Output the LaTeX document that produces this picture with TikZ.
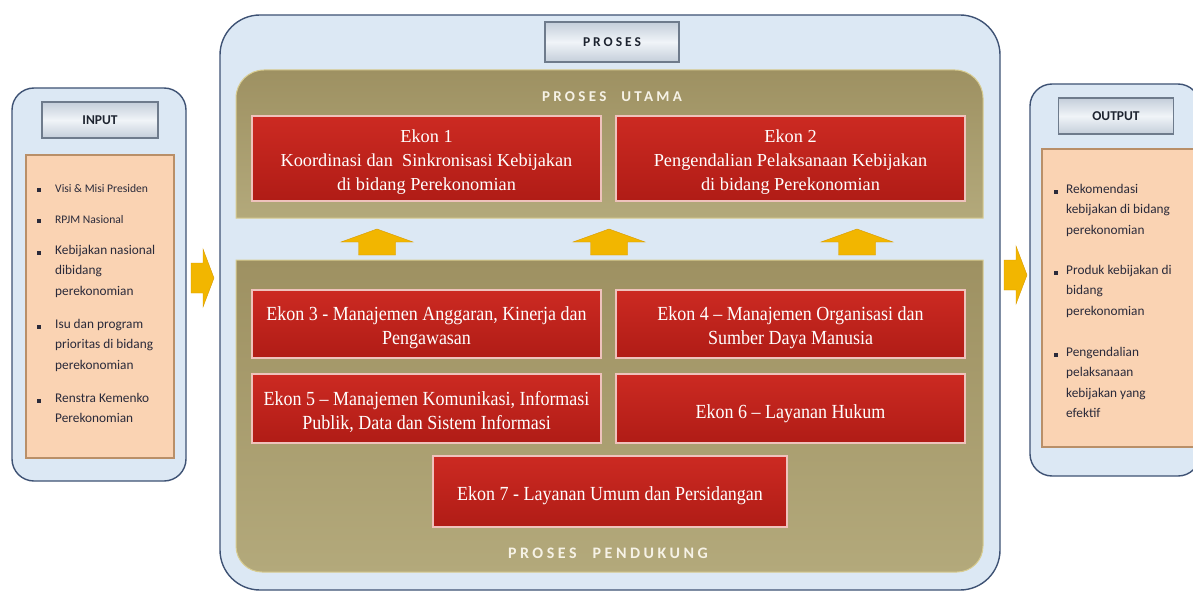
\documentclass[tikz,border=0pt]{standalone}
\usepackage{fontspec}
\setmainfont{Liberation Serif}
\newfontfamily\calfont{Carlito}
\newfontfamily\condfont[FakeStretch=0.9]{Liberation Serif}
\newfontfamily\capsfont[LetterSpace=22]{Carlito}
\newcommand\lift[1]{\rule{0pt}{#1pt}}
\definecolor{panelblue}{HTML}{DCE8F4}
\definecolor{panelline}{HTML}{3E5274}
\definecolor{titleline}{HTML}{6E7B8C}
\definecolor{titletop}{HTML}{C4CEDA}
\definecolor{titlemid}{HTML}{F0F4F8}
\definecolor{titletext}{HTML}{1E2430}
\definecolor{listfill}{HTML}{FAD3B3}
\definecolor{listline}{HTML}{B98F68}
\definecolor{listtext}{HTML}{2A2A3A}
\definecolor{bandtop}{HTML}{9E9162}
\definecolor{bandbot}{HTML}{B3A97B}
\definecolor{bandrim}{HTML}{D8CC90}
\definecolor{bandtext}{HTML}{F6F2E6}
\definecolor{ekontop}{HTML}{CC2A22}
\definecolor{ekonbot}{HTML}{B01C16}
\definecolor{ekonrim}{HTML}{EFC2BC}
\definecolor{arrowgold}{HTML}{F2B600}
\definecolor{arrowdark}{HTML}{D89A00}
\tikzset{
  panel/.style={draw=panelline,line width=1.4pt,fill=panelblue,rounded corners=#1},
  titlebox/.style={draw=titleline,line width=1.2pt,top color=titletop,bottom color=titletop,
    middle color=titlemid,text=titletext,font=\calfont\bfseries\fontsize{13.5}{13.5}\selectfont},
  listbox/.style={draw=listline,line width=1.4pt,fill=listfill},
  band/.style={top color=bandtop,bottom color=bandbot,draw=bandrim,line width=1pt},
  ekonbox/.style={draw=ekonrim,line width=2.2pt,top color=ekontop,bottom color=ekonbot,
    text=white,align=center,inner sep=0pt,minimum width=349,
    font=\fontsize{18.3}{24}\selectfont},
  condbox/.style={ekonbox,font=\condfont\fontsize{20}{24}\selectfont},
  listitem/.style={anchor=north west,align=left,inner sep=0pt,text=listtext,
    font=\calfont\fontsize{13.3}{20.5}\selectfont},
  smallitem/.style={listitem,font=\calfont\fontsize{11.6}{14}\selectfont},
  sqbullet/.style={fill=listtext,minimum size=4pt,inner sep=0pt},
  goldarrow/.style={fill=arrowgold,draw=arrowdark,line width=0.4pt},
  bandlabel/.style={text=bandtext,font=\capsfont\bfseries\fontsize{15}{15}\selectfont}
}
\begin{document}
\begin{tikzpicture}[x=1pt,y=-1pt]
\useasboundingbox(0,0)rectangle(1193,591);
% input column
\draw[panel=22](12,88)rectangle(186,481);
\node[titlebox,minimum width=116,minimum height=36](intitle)at(100,120){INPUT};
\draw[listbox](26,155)rectangle(174,458);
\node[sqbullet](b1)at(39,190){};\node[smallitem](in1)at(55,184){Visi \& Misi Presiden};
\node[sqbullet](b2)at(39,221){};\node[smallitem](in2)at(55,215){RPJM Nasional};
\node[sqbullet](b3)at(39,253){};\node[listitem](in3)at(55,245){Kebijakan nasional\\dibidang\\perekonomian};
\node[sqbullet](b4)at(39,327){};\node[listitem](in4)at(55,319){Isu dan program\\prioritas di bidang\\perekonomian};
\node[sqbullet](b5)at(39,401){};\node[listitem](in5)at(55,393){Renstra Kemenko\\Perekonomian};
% process column
\draw[panel=40](220,15)rectangle(1000,590);
\node[titlebox,minimum width=134,minimum height=40,
  font=\capsfont\bfseries\fontsize{13.5}{13.5}\selectfont](protitle)at(612,42){PROSES};
\draw[band](236,218)[rounded corners=28]--(236,70)--(983,70)[sharp corners]--(983,218)--cycle;
\node[bandlabel](utama)at(612,97){PROSES\quad UTAMA};
\node[ekonbox,minimum height=85](ekon1)at(426.5,158.5){\lift{20}Ekon 1\\Koordinasi dan\ \ Sinkronisasi Kebijakan\\di bidang Perekonomian};
\node[ekonbox,minimum height=85](ekon2)at(790.5,158.5){\lift{20}Ekon 2\\Pengendalian Pelaksanaan Kebijakan\\di bidang Perekonomian};
\foreach\ax in{377,609,857}
  \draw[goldarrow](\ax,229)--(\ax+36,242)--(\ax+18.5,242)--(\ax+18.5,255)
    --(\ax-18.5,255)--(\ax-18.5,242)--(\ax-36,242)--cycle;
\draw[band](236,260)[rounded corners=26]--(236,572)--(983,572)[sharp corners]--(983,260)--cycle;
\node[condbox,minimum height=68](ekon3)at(426.5,324){\lift{22}Ekon 3 - Manajemen Anggaran, Kinerja dan\\Pengawasan};
\node[condbox,minimum height=68](ekon4)at(790.5,324){\lift{22}Ekon 4 – Manajemen Organisasi dan\\Sumber Daya Manusia};
\node[condbox,minimum height=69](ekon5)at(426.5,408.5){\lift{22}Ekon 5 – Manajemen Komunikasi, Informasi\\Publik, Data dan Sistem Informasi};
\node[condbox,minimum height=69](ekon6)at(790.5,408.5){\lift{24}Ekon 6 – Layanan Hukum};
\node[condbox,minimum width=354,minimum height=71](ekon7)at(610,491.5){\lift{22}Ekon 7 - Layanan Umum dan Persidangan};
\node[bandlabel,font=\capsfont\bfseries\fontsize{16}{16}\selectfont](pendukung)at(608,553){PROSES\quad PENDUKUNG};
% arrows between columns
\draw[goldarrow](191,263)--(203,263)--(203,249)--(214,278)--(203,307)--(203,293)--(191,293)--cycle;
\draw[goldarrow](1004,260)--(1016,260)--(1016,246)--(1027,275)--(1016,304)--(1016,290)--(1004,290)--cycle;
% output column
\draw[panel=22](1030,84)rectangle(1200,476);
\node[titlebox,minimum width=115,minimum height=36](outtitle)at(1116,116){OUTPUT};
\draw[listbox](1042,149)rectangle(1200,447);
\node[sqbullet](c1)at(1056,192){};\node[listitem](out1)at(1066,184){Rekomendasi\\kebijakan di bidang\\perekonomian};
\node[sqbullet](c2)at(1056,273){};\node[listitem](out2)at(1066,265){Produk kebijakan di\\bidang\\perekonomian};
\node[sqbullet](c3)at(1056,355){};\node[listitem](out3)at(1066,347){Pengendalian\\pelaksanaan\\kebijakan yang\\efektif};
\end{tikzpicture}
\end{document}
